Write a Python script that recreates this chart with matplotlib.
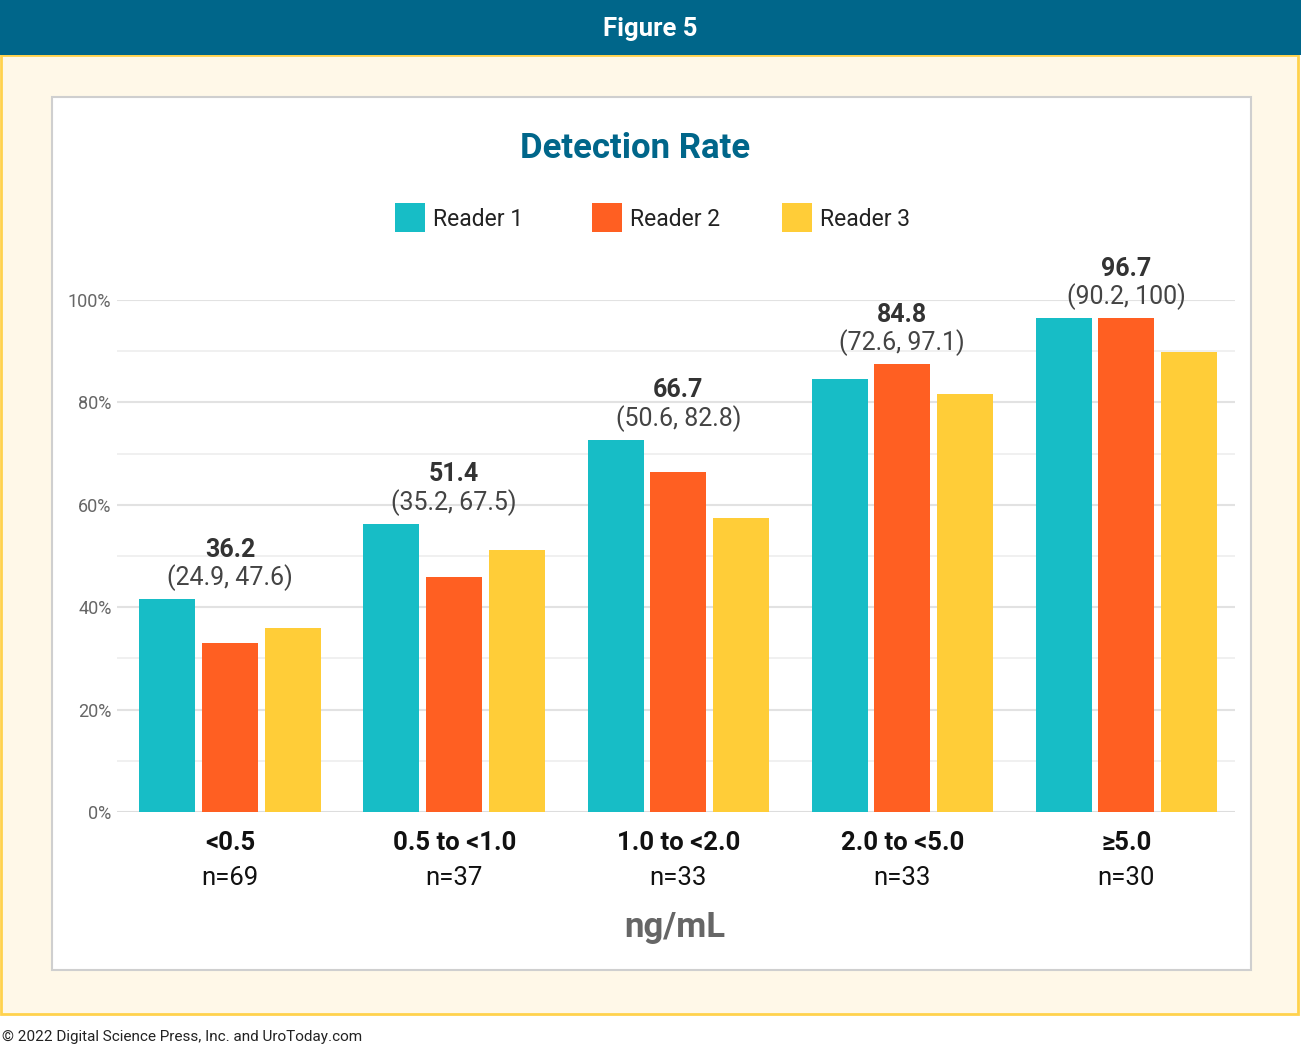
import matplotlib
matplotlib.use("Agg")
import matplotlib.pyplot as plt
from matplotlib.patches import Rectangle
import numpy as np

FAM = ['Roboto', 'DejaVu Sans']
plt.rcParams['font.family'] = FAM

categories = ["<0.5", "0.5 to <1.0", "1.0 to <2.0", "2.0 to <5.0", "≥5.0"]
counts = ["n=69", "n=37", "n=33", "n=33", "n=30"]
reader1 = [41.6, 56.3, 72.7, 84.6, 96.5]
reader2 = [33.0, 45.9, 66.4, 87.5, 96.5]
reader3 = [35.9, 51.2, 57.4, 81.6, 89.8]
overall = ["36.2", "51.4", "66.7", "84.8", "96.7"]
ci = ["(24.9, 47.6)", "(35.2, 67.5)", "(50.6, 82.8)", "(72.6, 97.1)", "(90.2, 100)"]
series_names = ["Reader 1", "Reader 2", "Reader 3"]
colors = ["#17bdc6", "#ff5f22", "#ffcd38"]

W, H = 1301, 1048
fig = plt.figure(figsize=(W / 100, H / 100), dpi=100)
fig.patch.set_facecolor("white")

def fx(x):
    return x / W

def fy(y):
    return 1 - y / H

# cream background with yellow border
fig.patches.append(Rectangle((fx(1), fy(1014)), fx(1297), (1014 - 55) / H,
                             transform=fig.transFigure, facecolor="#fff8e8",
                             edgecolor="#ffd24d", linewidth=2, zorder=0))
# header
fig.patches.append(Rectangle((0, fy(55)), 1, 55 / H, transform=fig.transFigure,
                             facecolor="#00668a", edgecolor="none", zorder=1))
fig.text(0.5, fy(29), "Figure 5", ha="center", va="center", color="white",
         fontsize=18.5, fontweight="bold")
# white panel
fig.patches.append(Rectangle((fx(52), fy(970)), fx(1199), (970 - 97) / H,
                             transform=fig.transFigure, facecolor="white",
                             edgecolor="#cfcfcf", linewidth=1.5, zorder=1))

fig.text(fx(2), fy(1037), "© 2022 Digital Science Press, Inc. and UroToday.com",
         ha="left", va="center", fontsize=11, color="#222222")

fig.text(fx(635), fy(149), "Detection Rate", ha="center", va="center",
         color="#00668a", fontsize=25, fontweight="bold")

# legend
leg_x = [395, 592, 782]
for lx, name, c in zip(leg_x, series_names, colors):
    fig.patches.append(Rectangle((fx(lx), fy(232)), fx(30), 29 / H,
                                 transform=fig.transFigure, facecolor=c,
                                 edgecolor="none", zorder=2))
    fig.text(fx(lx + 38), fy(219), name, ha="left", va="center",
             fontsize=16.5, color="#222222")

ax = fig.add_axes([fx(117), fy(812), fx(1235 - 117), (812 - 300) / H])
ax.set_zorder(3)
ax.patch.set_alpha(0)
x = np.arange(len(categories))
off = 0.28
bw = 0.25
for i, (vals, c) in enumerate(zip([reader1, reader2, reader3], colors)):
    ax.bar(x + (i - 1) * off, vals, width=bw, color=c, edgecolor="none", zorder=3)

ax.set_xlim(-0.505, 4.485)
ax.set_ylim(0, 100)
ax.set_yticks([0, 20, 40, 60, 80, 100])
ax.set_yticklabels(["0%", "20%", "40%", "60%", "80%", "100%"])
ax.set_yticks([10, 30, 50, 70, 90], minor=True)
ax.tick_params(axis="y", which="both", length=0, labelsize=13, labelcolor="#666666", pad=4)
ax.grid(axis="y", which="major", color="#e2e2e2", linewidth=1.5, zorder=0)
ax.grid(axis="y", which="minor", color="#eeeeee", linewidth=1.2, zorder=0)
for s in ax.spines.values():
    s.set_visible(False)
ax.axhline(0, color="#dddddd", linewidth=2, zorder=2)
ax.set_xticks(x)
ax.set_xticklabels([])
ax.tick_params(axis="x", length=0)

for i in range(len(categories)):
    top = max(reader1[i], reader2[i], reader3[i])
    ax.annotate(ci[i], (x[i], top), xytext=(0, 15.5), textcoords="offset points",
                ha="center", va="center", fontsize=18, color="#444444",
                annotation_clip=False)
    ax.annotate(overall[i], (x[i], top), xytext=(0, 35.5), textcoords="offset points",
                ha="center", va="center", fontsize=18, color="#333333",
                fontweight="bold", annotation_clip=False)
    ax.annotate(categories[i], (x[i], 0), xytext=(0, -22.5), textcoords="offset points",
                ha="center", va="center", fontsize=18.5, color="#111111",
                fontweight="bold", annotation_clip=False)
    ax.annotate(counts[i], (x[i], 0), xytext=(0, -47.5), textcoords="offset points",
                ha="center", va="center", fontsize=18.5, color="#111111",
                annotation_clip=False)

fig.text(fx(675), fy(927), "ng/mL", ha="center", va="center", fontsize=25,
         fontweight="bold", color="#666666")

fig.savefig("out.png", dpi=100)
